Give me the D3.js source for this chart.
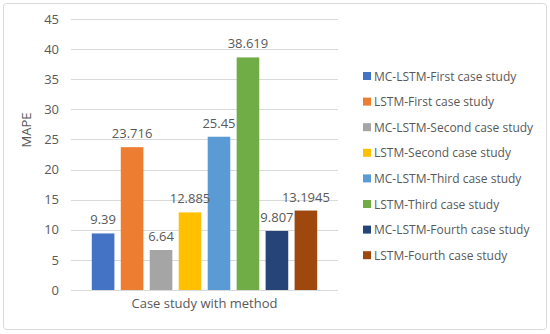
<!DOCTYPE html>
<html>
<head>
<meta charset="utf-8">
<script src="https://cdn.jsdelivr.net/npm/d3@7"></script>
<style>
  body { margin: 0; background: #fff; }
  text { font-family: "Open Sans", sans-serif; fill: #595959; }
</style>
</head>
<body>
<div id="chart"></div>
<script>
const category = "Case study with method";
const seriesNames = [
    "MC-LSTM-First case study",
    "LSTM-First case study",
    "MC-LSTM-Second case study",
    "LSTM-Second case study",
    "MC-LSTM-Third case study",
    "LSTM-Third case study",
    "MC-LSTM-Fourth case study",
    "LSTM-Fourth case study"
];
const mapeValues = [9.39, 23.716, 6.64, 12.885, 25.45, 38.619, 9.807, 13.1945];
const valueLabels = ["9.39", "23.716", "6.64", "12.885", "25.45", "38.619", "9.807", "13.1945"];
const yTicks = [0, 5, 10, 15, 20, 25, 30, 35, 40, 45];
const seriesColors = ["#4472C4", "#ED7D31", "#A5A5A5", "#FFC000", "#5B9BD5", "#70AD47", "#264478", "#9E480E"];

const width = 550;
const height = 334;
const plot = { left: 71, right: 338, top: 19, bottom: 290 };

const svg = d3.select('#chart')
    .append('svg')
        .attr('width', width)
        .attr('height', height);

// chart border
svg.append('rect')
    .attr('x', 3.5)
    .attr('y', 3.5)
    .attr('width', 543)
    .attr('height', 326)
    .attr('rx', 3)
    .attr('fill', '#fff')
    .attr('stroke', '#d9d9d9');

const y = d3.scaleLinear()
    .domain([0, 45])
    .range([plot.bottom, plot.top]);

const x0 = d3.scaleBand()
    .domain([category])
    .range([plot.left, plot.right])
    .paddingOuter(0.076);

const x1 = d3.scaleBand()
    .domain(seriesNames)
    .range([x0(category), x0(category) + x0.bandwidth()])
    .paddingInner(0.22)
    .paddingOuter(0.11);

// gridlines
svg.append('g')
    .selectAll('line')
    .data(yTicks)
    .join('line')
        .attr('x1', plot.left)
        .attr('x2', plot.right)
        .attr('y1', d => Math.round(y(d)) + 0.5)
        .attr('y2', d => Math.round(y(d)) + 0.5)
        .attr('stroke', '#d9d9d9');

// y tick labels
const yAxis = svg.append('g')
    .attr('transform', `translate(${plot.left - 12},0)`)
    .call(d3.axisLeft(y).tickValues(yTicks).tickSize(0).tickPadding(0));
yAxis.select('.domain').remove();
yAxis.selectAll('text')
    .attr('font-size', 13)
    .attr('font-family', '"Open Sans", sans-serif')
    .attr('fill', '#595959');

const data = seriesNames.map((name, i) => ({ name, value: mapeValues[i], label: valueLabels[i], color: seriesColors[i] }));

svg.append('g')
    .selectAll('rect')
    .data(data)
    .join('rect')
        .attr('x', d => x1(d.name))
        .attr('y', d => y(d.value))
        .attr('width', x1.bandwidth())
        .attr('height', d => y(0) - y(d.value))
        .attr('fill', d => d.color);

svg.append('g')
    .selectAll('text')
    .data(data)
    .join('text')
        .attr('x', d => x1(d.name) + x1.bandwidth() / 2)
        .attr('y', d => y(d.value) - 9)
        .attr('text-anchor', 'middle')
        .attr('font-size', 13)
        .text(d => d.label);

// axis titles
svg.append('text')
    .attr('x', (plot.left + plot.right) / 2)
    .attr('y', 308)
    .attr('text-anchor', 'middle')
    .attr('font-size', 13)
    .text(category);

svg.append('text')
    .attr('transform', 'translate(31,130) rotate(-90)')
    .attr('text-anchor', 'middle')
    .attr('font-size', 13)
    .text('MAPE');

// legend
const legend = svg.append('g')
    .selectAll('g')
    .data(data)
    .join('g')
        .attr('transform', (d, i) => `translate(363,${76 + i * 25.6})`);

legend.append('rect')
    .attr('x', 0)
    .attr('y', -4)
    .attr('width', 8)
    .attr('height', 8)
    .attr('fill', d => d.color);

legend.append('text')
    .attr('x', 11)
    .attr('y', 4.5)
    .attr('font-size', 12)
    .text(d => d.name);
</script>
</body>
</html>
